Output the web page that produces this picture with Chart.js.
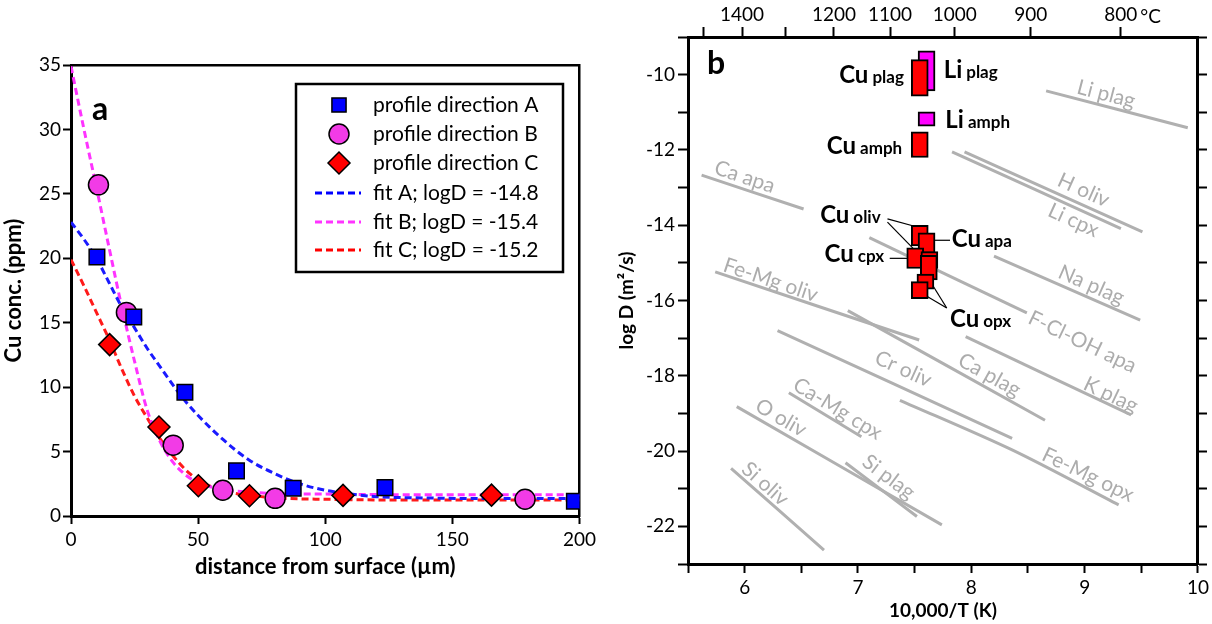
<!DOCTYPE html>
<html>
<head>
<meta charset="utf-8">
<script src="https://cdn.jsdelivr.net/npm/chart.js@4.4.0/dist/chart.umd.min.js"></script>
<style>
  html, body { margin: 0; padding: 0; background: #fff; }
  #wrapA { position: absolute; left: 0; top: 0; width: 600px; height: 624px; }
  #wrapB { position: absolute; left: 600px; top: 0; width: 612px; height: 624px; }
</style>
</head>
<body>
<div id="wrapA"><canvas id="chartA"></canvas></div>
<div id="wrapB"><canvas id="chartB"></canvas></div>
<script>
// ---------- panel a: Cu profiles vs distance ----------
const distA = [10.2, 24.7, 44.8, 65.1, 87.4, 123.5, 198];
const concA = [20.1, 15.45, 9.6, 3.5, 2.15, 2.2, 1.15];
const distB = [10.8, 21.8, 40.2, 59.7, 80.3, 178.6];
const concB = [25.7, 15.8, 5.5, 2.0, 1.37, 1.3];
const distC = [15.2, 34.6, 50.1, 70.2, 107, 165.4];
const concC = [13.3, 6.9, 2.35, 1.57, 1.6, 1.62];

// diffusion fits
const fitDist = [0, 5, 10, 15, 20, 25, 30, 35, 40, 45, 50, 60, 70, 80, 90, 100, 110, 120, 140, 160, 180, 200];
const fitA = [22.8, 21.5, 20.0, 18.1, 16.2, 14.6, 13.0, 11.6, 10.2, 8.9, 7.8, 5.9, 4.35, 3.3, 2.5, 2.0, 1.7, 1.5, 1.4, 1.35, 1.35, 1.35];
const fitB = [34.9, 30.1, 25.5, 20.8, 16.2, 12.0, 8.2, 5.8, 4.2, 3.2, 2.6, 2.05, 1.85, 1.75, 1.7, 1.7, 1.68, 1.66, 1.65, 1.65, 1.65, 1.65];
const fitC = [19.9, 17.9, 15.8, 13.7, 11.4, 9.3, 7.6, 6.0, 4.7, 3.6, 2.8, 1.95, 1.6, 1.42, 1.33, 1.3, 1.27, 1.25, 1.25, 1.25, 1.25, 1.25];

const legendText = ['profile direction A', 'profile direction B', 'profile direction C',
  'fit A; logD = -14.8', 'fit B; logD = -15.4', 'fit C; logD = -15.2'];

// ---------- panel b: Arrhenius plot ----------
const tempTicksC = [1500, 1400, 1300, 1200, 1100, 1000, 900, 800];
const tempLabelsC = [1400, 1200, 1100, 1000, 900, 800];

// measured boxes: 10,000/T centre, log D low, log D high
const cuBoxX = [7.545, 7.545, 7.545, 7.605, 7.505, 7.63, 7.625, 7.595, 7.545];
const cuBoxLow = [-10.57, -12.2, -14.55, -14.75, -15.15, -15.15, -15.45, -15.7, -15.95];
const cuBoxHigh = [-9.6, -11.52, -14.0, -14.2, -14.6, -14.7, -14.8, -15.3, -15.5];
const liBoxX = [7.605, 7.605];
const liBoxLow = [-10.43, -11.37];
const liBoxHigh = [-9.37, -10.99];

// literature Arrhenius relations (grey)
const trendLines = [
  { name: 'Li plag', x: [8.66, 9.91], y: [-10.43, -11.41] },
  { name: 'Ca apa', x: [5.62, 6.52], y: [-12.67, -13.57] },
  { name: 'H oliv', x: [7.94, 9.51], y: [-12.05, -14.18] },
  { name: 'Li cpx', x: [7.83, 9.32], y: [-12.05, -14.09] },
  { name: 'Fe-Mg oliv', x: [5.74, 7.54], y: [-15.24, -17.05] },
  { name: 'F-Cl-OH apa', x: [7.10, 8.49], y: [-14.33, -16.33] },
  { name: 'Na plag', x: [8.20, 9.49], y: [-14.82, -16.52] },
  { name: 'Cr oliv', x: [6.29, 8.36], y: [-16.80, -19.66] },
  { name: 'Ca plag', x: [6.91, 8.65], y: [-16.27, -19.18] },
  { name: 'K plag', x: [7.95, 9.41], y: [-16.96, -19.04] },
  { name: 'Ca-Mg cpx', x: [6.39, 7.03], y: [-18.45, -19.62] },
  { name: 'O oliv', x: [5.93, 7.74], y: [-18.82, -21.96] },
  { name: 'Fe-Mg opx', x: [7.37, 8.36, 9.30], y: [-18.65, -19.97, -21.43] },
  { name: 'Si plag', x: [6.89, 7.52], y: [-20.31, -21.74] },
  { name: 'Si oliv', x: [5.88, 6.70], y: [-20.46, -22.63] }
];

// where each grey name sits (data coords)
const trendLabelAt = {
  'Li plag': [9.19, -10.52], 'Ca apa': [6.0, -12.72], 'H oliv': [8.99, -13.07],
  'Li cpx': [8.90, -13.87], 'Fe-Mg oliv': [6.23, -15.46], 'F-Cl-OH apa': [8.98, -17.10],
  'Na plag': [9.06, -15.59], 'Cr oliv': [7.40, -17.82], 'Ca plag': [8.16, -17.98],
  'K plag': [9.23, -18.51], 'Ca-Mg cpx': [6.82, -18.88], 'O oliv': [6.32, -19.12],
  'Fe-Mg opx': [9.03, -20.63], 'Si plag': [7.27, -20.69], 'Si oliv': [6.18, -20.87]
};

// black species names: anchor (data coords) and side
const speciesLabels = [
  { main: 'Cu', sub: 'plag', at: [7.405, -10.23], align: 'right' },
  { main: 'Li', sub: 'plag', at: [7.756, -10.10], align: 'left' },
  { main: 'Li', sub: 'amph', at: [7.771, -11.43], align: 'left' },
  { main: 'Cu', sub: 'amph', at: [7.39, -12.10], align: 'right' },
  { main: 'Cu', sub: 'oliv', at: [7.20, -13.95], align: 'right' },
  { main: 'Cu', sub: 'cpx', at: [7.23, -14.97], align: 'right' },
  { main: 'Cu', sub: 'apa', at: [7.827, -14.57], align: 'left' },
  { main: 'Cu', sub: 'opx', at: [7.812, -16.70], align: 'left' }
];

// leader lines from names to boxes
const leaderLines = [
  [[7.26, -13.83], [7.49, -14.02]],
  [[7.26, -13.92], [7.54, -14.78]],
  [[7.28, -14.88], [7.45, -14.88]],
  [[7.657, -14.40], [7.812, -14.40]],
  [[7.783, -16.2], [7.615, -15.9]],
  [[7.783, -16.2], [7.66, -15.6]]
];

Chart.defaults.font.family = 'Lato';
Chart.defaults.color = '#000';
Chart.defaults.animation = false;

function pts(xs, ys) {
  return xs.map((v, i) => ({ x: v, y: ys[i] }));
}

const BLUE = '#0000ff', PINK = '#f23be6', RED = '#ff0000';
const tickFont = { size: 19 };

// ---------- chart a ----------
const legendA = {
  id: 'legendA',
  afterDraw(chart) {
    const ctx = chart.ctx;
    const area = chart.chartArea;
    ctx.save();
    // panel letter
    ctx.font = 'bold 32px Lato';
    ctx.fillStyle = '#000';
    ctx.textBaseline = 'alphabetic';
    ctx.fillText('a', area.left + 21, area.top + 55);

    ctx.lineWidth = 2.5;
    ctx.strokeStyle = '#000';
    ctx.strokeRect(296, 84, 267, 188);
    const rows = [105, 134, 163, 193, 222, 250];
    const marks = [
      { style: 'rect', r: 10, fill: BLUE },
      { style: 'circle', r: 10, fill: PINK },
      { style: 'rectRot', r: 11, fill: RED }
    ];
    marks.forEach((m, i) => {
      ctx.fillStyle = m.fill;
      ctx.strokeStyle = '#000';
      ctx.lineWidth = 1.5;
      Chart.helpers.drawPoint(ctx, { pointStyle: m.style, radius: m.r, borderWidth: 1.5, rotation: 0 }, 339, rows[i]);
    });
    [BLUE, '#ff33ff', RED].forEach((c, i) => {
      ctx.beginPath();
      ctx.setLineDash([7, 4]);
      ctx.lineWidth = 3;
      ctx.strokeStyle = c;
      ctx.moveTo(315, rows[i + 3]);
      ctx.lineTo(361, rows[i + 3]);
      ctx.stroke();
    });
    ctx.setLineDash([]);
    ctx.font = '21px Lato';
    ctx.fillStyle = '#000';
    ctx.textBaseline = 'middle';
    legendText.forEach((t, i) => ctx.fillText(t, 373, rows[i]));
    ctx.restore();
  }
};

new Chart(document.getElementById('chartA'), {
  type: 'scatter',
  data: {
    datasets: [
      { label: 'A', data: pts(distA, concA), pointStyle: 'rect', pointRadius: 11,
        backgroundColor: BLUE, borderColor: '#000', borderWidth: 1.5, order: 0 },
      { label: 'B', data: pts(distB, concB), pointStyle: 'circle', pointRadius: 10,
        backgroundColor: PINK, borderColor: '#000', borderWidth: 1.5, order: 0 },
      { label: 'C', data: pts(distC, concC), pointStyle: 'rectRot', pointRadius: 11,
        backgroundColor: RED, borderColor: '#000', borderWidth: 1.5, order: 0 },
      { type: 'line', label: 'fit A', data: pts(fitDist, fitA), borderColor: '#1a1aff', borderWidth: 3,
        borderDash: [7, 4], pointRadius: 0, cubicInterpolationMode: 'monotone', order: 5 },
      { type: 'line', label: 'fit B', data: pts(fitDist, fitB), borderColor: '#ff33ff', borderWidth: 3,
        borderDash: [7, 4], pointRadius: 0, cubicInterpolationMode: 'monotone', order: 5 },
      { type: 'line', label: 'fit C', data: pts(fitDist, fitC), borderColor: '#ff1a1a', borderWidth: 3,
        borderDash: [7, 4], pointRadius: 0, cubicInterpolationMode: 'monotone', order: 5 }
    ]
  },
  options: {
    responsive: true,
    maintainAspectRatio: false,
    layout: { padding: 0 },
    plugins: { legend: { display: false }, tooltip: { enabled: false } },
    scales: {
      x: {
        type: 'linear', position: 'bottom', min: 0, max: 200, offset: false,
        ticks: { stepSize: 50, font: tickFont, padding: 4, maxRotation: 0, autoSkip: false },
        grid: { drawOnChartArea: false, tickLength: 8, tickWidth: 2, tickColor: '#000', offset: false },
        border: { width: 3, color: '#000' },
        title: { display: true, text: 'distance from surface (\u00b5m)', font: { size: 22, weight: 'bold' }, padding: { bottom: 44 } },
        afterFit: s => { s.height = 108; }
      },
      y: {
        type: 'linear', position: 'left', min: 0, max: 35,
        ticks: { stepSize: 5, font: tickFont, padding: 2, autoSkip: false },
        grid: { drawOnChartArea: false, tickLength: 8, tickWidth: 2, tickColor: '#000' },
        border: { width: 3, color: '#000' },
        title: { display: true, text: 'Cu conc. (ppm)', font: { size: 22, weight: 'bold' }, padding: { top: 1 } },
        afterFit: s => { s.width = 71; }
      },
      x2: {
        type: 'linear', position: 'top', min: 0, max: 200,
        ticks: { display: false }, grid: { display: false },
        border: { width: 2.5, color: '#000' },
        afterFit: s => { s.height = 65; }
      },
      y2: {
        type: 'linear', position: 'right', min: 0, max: 35,
        ticks: { display: false }, grid: { display: false },
        border: { width: 2.5, color: '#000' },
        afterFit: s => { s.width = 19; }
      }
    }
  },
  plugins: [legendA]
});

// ---------- chart b ----------
const labelsB = {
  id: 'labelsB',
  beforeDatasetsDraw(chart) {
    const { ctx, scales: { x, y } } = chart;
    ctx.save();
    ctx.font = '21px Lato';
    ctx.fillStyle = '#acacac';
    ctx.textAlign = 'center';
    ctx.textBaseline = 'middle';
    trendLines.forEach(t => {
      const p = trendLabelAt[t.name];
      const n = t.x.length - 1;
      const ang = Math.atan2(y.getPixelForValue(t.y[n]) - y.getPixelForValue(t.y[0]),
        x.getPixelForValue(t.x[n]) - x.getPixelForValue(t.x[0]));
      ctx.save();
      ctx.translate(x.getPixelForValue(p[0]), y.getPixelForValue(p[1]));
      ctx.rotate(ang);
      ctx.fillText(t.name, 0, 0);
      ctx.restore();
    });
    ctx.restore();
  },
  afterDatasetsDraw(chart) {
    const { ctx, scales: { x, y, x2 }, chartArea } = chart;
    ctx.save();
    ctx.fillStyle = '#000';
    ctx.textBaseline = 'alphabetic';
    ctx.font = 'bold 32px Lato';
    ctx.fillText('b', chartArea.left + 19, chartArea.top + 37);

    speciesLabels.forEach(l => {
      ctx.font = 'bold 24px Lato';
      const wMain = ctx.measureText(l.main).width;
      ctx.font = 'bold 17px Lato';
      const wSub = ctx.measureText(l.sub).width;
      const gap = 4;
      const px = x.getPixelForValue(l.at[0]);
      const py = y.getPixelForValue(l.at[1]);
      const x0 = l.align === 'right' ? px - (wMain + gap + wSub) : px;
      ctx.textAlign = 'left';
      ctx.font = 'bold 24px Lato';
      ctx.fillText(l.main, x0, py);
      ctx.font = 'bold 17px Lato';
      ctx.fillText(l.sub, x0 + wMain + gap, py);
    });

    // degree unit next to the last top label
    ctx.font = '19px Lato';
    const t800 = x2.getPixelForValue(10000 / (800 + 273.15));
    const w800 = ctx.measureText('800').width;
    ctx.textAlign = 'left';
    ctx.textBaseline = 'bottom';
    ctx.fillText('\u00b0C', t800 + w800 / 2 + 3, chartArea.top - 10 - 1);
    ctx.restore();
  }
};

const datasetsB = [
  { type: 'bar', label: 'Cu', data: cuBoxX.map((v, i) => ({ x: v, y: [cuBoxLow[i], cuBoxHigh[i]] })),
    backgroundColor: RED, borderColor: '#000', borderWidth: 2, borderSkipped: false,
    barThickness: 17, grouped: false, order: 0 },
  { type: 'bar', label: 'Li', data: liBoxX.map((v, i) => ({ x: v, y: [liBoxLow[i], liBoxHigh[i]] })),
    backgroundColor: '#ff00ff', borderColor: '#000', borderWidth: 2, borderSkipped: false,
    barThickness: 17, grouped: false, order: 1 }
];
leaderLines.forEach(seg => {
  datasetsB.push({ type: 'line', data: seg.map(p => ({ x: p[0], y: p[1] })),
    borderColor: '#000', borderWidth: 1.2, pointRadius: 0, order: 2 });
});
trendLines.forEach(t => {
  datasetsB.push({ type: 'line', label: t.name, data: pts(t.x, t.y),
    borderColor: '#b0b0b0', borderWidth: 3, pointRadius: 0, tension: 0.3, order: 3 });
});

const axisGridB = len => ({ drawOnChartArea: false, tickLength: len, tickWidth: 2, tickColor: '#000', offset: false });

new Chart(document.getElementById('chartB'), {
  type: 'scatter',
  data: { datasets: datasetsB },
  options: {
    responsive: true,
    maintainAspectRatio: false,
    layout: { padding: 0 },
    plugins: { legend: { display: false }, tooltip: { enabled: false } },
    scales: {
      x: {
        type: 'linear', position: 'bottom', min: 5.5, max: 10, offset: false,
        ticks: { stepSize: 0.5, font: tickFont, padding: 3, maxRotation: 0, autoSkip: false,
          callback: v => (Number.isInteger(v) && v >= 6) ? String(v) : '' },
        grid: axisGridB(9),
        border: { width: 3, color: '#000' },
        title: { display: true, text: '10,000/T (K)', font: { size: 19, weight: 'bold' }, padding: { bottom: 2 } },
        afterFit: s => { s.height = 60; }
      },
      y: {
        type: 'linear', position: 'left', min: -23, max: -9, beginAtZero: false,
        ticks: { stepSize: 1, font: tickFont, padding: 3, autoSkip: false,
          callback: v => (v % 2 === 0) ? String(v) : '' },
        grid: axisGridB(10),
        border: { width: 3, color: '#000' },
        title: { display: true, text: 'log D (m\u00b2/s)', font: { size: 19, weight: 'bold' }, padding: { top: 15 } },
        afterFit: s => { s.width = 88; }
      },
      x2: {
        type: 'linear', position: 'top', min: 5.5, max: 10, offset: false,
        afterBuildTicks: s => { s.ticks = tempTicksC.map(t => ({ value: 10000 / (t + 273.15) })); },
        ticks: { font: tickFont, padding: 1, maxRotation: 0, autoSkip: false,
          callback: v => {
            const t = Math.round(10000 / v - 273.15);
            return tempLabelsC.includes(t) ? String(t) : '';
          } },
        grid: axisGridB(10),
        border: { width: 3, color: '#000' },
        afterFit: s => { s.height = 37; }
      },
      y2: {
        type: 'linear', position: 'right', min: -23, max: -9,
        ticks: { stepSize: 1, autoSkip: false, callback: () => '' },
        grid: axisGridB(9),
        border: { width: 3, color: '#000' },
        afterFit: s => { s.width = 12; }
      }
    }
  },
  plugins: [labelsB]
});
</script>
</body>
</html>
